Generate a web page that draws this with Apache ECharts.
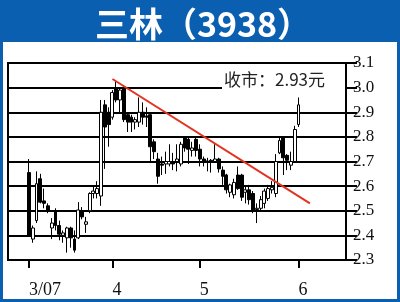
<!DOCTYPE html>
<html>
<head>
<meta charset="utf-8">
<script src="https://cdn.jsdelivr.net/npm/echarts@6/dist/echarts.min.js"></script>
<style>
  html, body { margin: 0; padding: 0; background: #fff; }
  #chart { width: 400px; height: 302px; }
</style>
</head>
<body>
<div id="chart"></div>
<script>
// Daily candles, Sanlin (3938), March to early June 2007
const open  = [2.655, 2.385, 2.46, 2.63, 2.54, 2.52, 2.43, 2.495, 2.44, 2.40, 2.39, 2.43, 2.385, 2.39, 2.50, 2.445,
               2.50, 2.57, 2.57, 2.56, 2.93, 2.90, 2.88, 3.00, 2.95, 3.00, 2.89, 2.88, 2.86, 2.86, 2.90, 2.885,
               2.89, 2.78, 2.71, 2.69, 2.69, 2.69, 2.70, 2.70, 2.69, 2.795, 2.79, 2.745, 2.79, 2.75, 2.71, 2.702,
               2.705, 2.70, 2.71, 2.665, 2.645, 2.575, 2.565, 2.645, 2.645, 2.575, 2.585, 2.57, 2.505, 2.51, 2.53,
               2.55, 2.585, 2.57, 2.735, 2.795, 2.725, 2.685, 2.70, 2.85];
const close = [2.40, 2.43, 2.61, 2.535, 2.53, 2.50, 2.45, 2.44, 2.405, 2.41, 2.43, 2.39, 2.34, 2.503, 2.475, 2.455,
               2.57, 2.58, 2.59, 2.90, 2.84, 2.85, 2.98, 2.95, 2.99, 2.87, 2.86, 2.86, 2.87, 2.90, 2.88, 2.88,
               2.76, 2.74, 2.64, 2.685, 2.70, 2.70, 2.69, 2.71, 2.77, 2.755, 2.75, 2.755, 2.745, 2.71, 2.70, 2.70,
               2.70, 2.71, 2.67, 2.64, 2.585, 2.605, 2.615, 2.59, 2.555, 2.585, 2.545, 2.50, 2.51, 2.545, 2.58,
               2.59, 2.595, 2.70, 2.785, 2.715, 2.705, 2.70, 2.83, 2.93];
const low   = [2.395, 2.37, 2.45, 2.53, 2.51, 2.49, 2.385, 2.42, 2.38, 2.37, 2.33, 2.35, 2.33, 2.385, 2.465, 2.41,
               2.49, 2.55, 2.55, 2.52, 2.67, 2.76, 2.87, 2.94, 2.90, 2.86, 2.82, 2.82, 2.83, 2.84, 2.85, 2.84,
               2.70, 2.71, 2.61, 2.645, 2.65, 2.68, 2.665, 2.66, 2.68, 2.74, 2.69, 2.72, 2.72, 2.68, 2.68, 2.66,
               2.655, 2.695, 2.655, 2.605, 2.57, 2.555, 2.55, 2.585, 2.54, 2.53, 2.525, 2.49, 2.45, 2.50, 2.51,
               2.54, 2.57, 2.555, 2.73, 2.645, 2.665, 2.665, 2.70, 2.84];
const high  = [2.71, 2.44, 2.66, 2.65, 2.59, 2.53, 2.47, 2.51, 2.46, 2.42, 2.435, 2.435, 2.42, 2.535, 2.515, 2.475,
               2.575, 2.60, 2.62, 2.95, 2.95, 2.92, 2.99, 3.03, 3.00, 3.01, 2.90, 2.89, 2.88, 2.96, 2.94, 2.92,
               2.90, 2.79, 2.735, 2.72, 2.74, 2.77, 2.735, 2.77, 2.78, 2.80, 2.80, 2.78, 2.80, 2.77, 2.72, 2.715,
               2.71, 2.77, 2.715, 2.68, 2.65, 2.61, 2.63, 2.68, 2.65, 2.60, 2.605, 2.58, 2.53, 2.56, 2.59,
               2.605, 2.62, 2.73, 2.80, 2.80, 2.73, 2.74, 2.845, 2.96];

// Month labels and the candle each one sits on
const tickLabels = ['3/07', '4', '5', '6'];
const tickAt = [0, 22, 45, 71];

// Downtrend line: candle positions and prices at its two ends
const trendAt = [22, 74];
const trendVal = [3.035, 2.53];

// Price axis range
const yMin = 2.3, yMax = 3.1, yStep = 0.1;

const lead = 5, tail = 12;
const n = open.length;
const cats = [];
const candles = [];
for (let i = 0; i < lead + n + tail; i++) {
  cats.push('d' + i);
  const j = i - lead;
  candles.push(j >= 0 && j < n ? [open[j], close[j], low[j], high[j]] : ['-', '-', '-', '-']);
}
const isTick = idx => tickAt.indexOf(idx - lead) >= 0;

const blue = '#0b5fb0';
const lastClose = close[n - 1];

const chart = echarts.init(document.getElementById('chart'), null, { renderer: 'canvas' });
chart.setOption({
  animation: false,
  backgroundColor: '#fff',
  grid: {
    left: 8, top: 63, width: 338, height: 197,
    show: true, borderColor: '#000', borderWidth: 2, backgroundColor: 'transparent'
  },
  xAxis: {
    type: 'category',
    data: cats,
    boundaryGap: true,
    axisLine: { show: false },
    axisTick: {
      show: true, alignWithLabel: true, length: 8,
      interval: isTick,
      lineStyle: { color: '#000', width: 2 }
    },
    axisLabel: {
      interval: isTick,
      formatter: (v, idx) => tickLabels[tickAt.indexOf(idx - lead)] || '',
      align: 'left',
      margin: 21,
      fontFamily: '"Liberation Serif", "DejaVu Serif", serif',
      fontSize: 18,
      color: '#111'
    },
    splitLine: { show: false }
  },
  yAxis: {
    type: 'value',
    position: 'right',
    min: yMin, max: yMax, interval: yStep,
    axisLine: { show: false },
    axisTick: { show: true, inside: false, length: 11, lineStyle: { color: '#000', width: 2 } },
    axisLabel: {
      margin: 7,
      padding: [0, 0, 12, 0],
      formatter: v => v.toFixed(1),
      fontFamily: '"Liberation Serif", "DejaVu Serif", serif',
      fontSize: 17,
      color: '#111'
    },
    splitLine: { show: true, lineStyle: { color: '#000', width: 2 } }
  },
  series: [
    {
      type: 'candlestick',
      data: candles,
      barWidth: 3.4,
      itemStyle: {
        color: '#ffffff', color0: '#000000',
        borderColor: '#000000', borderColor0: '#000000', borderWidth: 1
      },
      emphasis: { disabled: true }
    },
    {
      type: 'line',
      data: trendAt.map((a, i) => [a + lead, trendVal[i]]),
      symbol: 'none',
      lineStyle: { color: '#e3321f', width: 2 },
      z: 5,
      silent: true
    }
  ],
  graphic: [
    { type: 'rect', z: 100, shape: { x: 222, y: 65, width: 123, height: 31 }, style: { fill: '#fff' } },
    {
      type: 'text', z: 101, x: 224, y: 80,
      style: {
        text: '收市：' + lastClose.toFixed(2) + '元',
        font: '17px "Noto Sans CJK SC", sans-serif',
        fill: '#222', textVerticalAlign: 'middle'
      }
    },
    { type: 'rect', z: 100, shape: { x: 0, y: 0, width: 400, height: 42 }, style: { fill: blue } },
    { type: 'rect', z: 100, shape: { x: 0, y: 0, width: 3, height: 302 }, style: { fill: blue } },
    { type: 'rect', z: 100, shape: { x: 397, y: 0, width: 3, height: 302 }, style: { fill: blue } },
    { type: 'rect', z: 100, shape: { x: 0, y: 299, width: 400, height: 3 }, style: { fill: blue } },
    {
      type: 'text', z: 101, x: 203, y: 24,
      style: {
        text: '三林（3938）',
        font: 'bold 34px "Noto Sans CJK SC", sans-serif',
        fill: '#fff', textAlign: 'center', textVerticalAlign: 'middle'
      }
    }
  ]
});
</script>
</body>
</html>
